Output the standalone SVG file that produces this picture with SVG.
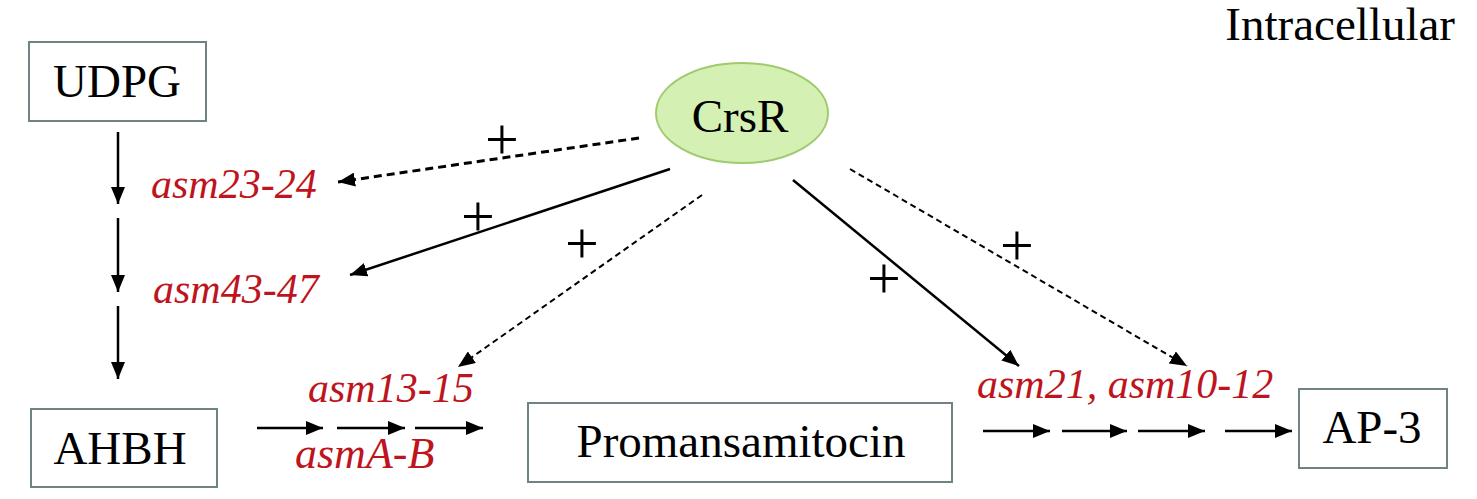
<svg xmlns="http://www.w3.org/2000/svg" width="1477" height="499" viewBox="0 0 1477 499">
<defs>
<style>
.box{fill:#fff;stroke:#6f8384;stroke-width:2}
.lbl{font-family:"Liberation Serif","Times New Roman",serif;font-size:47px;fill:#000;text-anchor:middle}
.gene{font-family:"Liberation Serif","Times New Roman",serif;font-size:42px;font-style:italic;fill:#be1420}
.plus{font-family:"Liberation Serif","Times New Roman",serif;font-size:60px;fill:#000;text-anchor:middle}
.ln{stroke:#000;stroke-width:2.5;fill:none;marker-end:url(#ah)}
.dash{stroke:#000;stroke-width:2.5;fill:none;stroke-dasharray:8 5;marker-end:url(#ah)}
</style>
<marker id="ah" markerUnits="userSpaceOnUse" markerWidth="18" markerHeight="14" refX="17" refY="7" orient="auto">
<path d="M0,0 L17,7 L0,14 Z" fill="#000"/>
</marker>
</defs>
<rect width="1477" height="499" fill="#fff"/>
<text x="1455" y="40" class="lbl" style="text-anchor:end">Intracellular</text>
<g id="udpg"><rect class="box" x="29" y="42" width="177" height="79"/><text x="117" y="97" class="lbl">UDPG</text></g>
<g id="ahbh"><rect class="box" x="31" y="409" width="186" height="78"/><text x="120" y="464" class="lbl">AHBH</text></g>
<g id="promansamitocin"><rect class="box" x="528" y="403" width="424" height="79"/><text x="741" y="457" class="lbl">Promansamitocin</text></g>
<g id="ap3"><rect class="box" x="1299" y="389" width="148" height="79"/><text x="1372" y="443" class="lbl">AP-3</text></g>
<g id="crsr"><ellipse cx="742" cy="113" rx="86" ry="50" fill="#d4f0b2" stroke="#9fca6e" stroke-width="2"/><text x="740" y="132" class="lbl">CrsR</text></g>
<g id="genes">
<text x="151" y="198" class="gene">asm23-24</text>
<text x="153" y="303" class="gene">asm43-47</text>
<text x="308" y="402" class="gene">asm13-15</text>
<text x="295" y="468" class="gene" style="font-size:44px">asmA-B</text>
<text x="977" y="398" class="gene">asm21, asm10-12</text>
</g>
<g id="connectors">
<line class="ln" x1="118" y1="132" x2="118" y2="204"/>
<line class="ln" x1="118" y1="218" x2="118" y2="292"/>
<line class="ln" x1="118" y1="306" x2="118" y2="379"/>
<line class="ln" x1="257" y1="428" x2="323" y2="428"/>
<line class="ln" x1="337" y1="428" x2="405" y2="428"/>
<line class="ln" x1="415" y1="428" x2="483" y2="428"/>
<line class="ln" x1="983" y1="431" x2="1050" y2="431"/>
<line class="ln" x1="1062" y1="431" x2="1127" y2="431"/>
<line class="ln" x1="1138" y1="431" x2="1205" y2="431"/>
<line class="ln" x1="1225" y1="431" x2="1292" y2="431"/>
<line class="dash" x1="639" y1="138" x2="338" y2="182" style="stroke-width:3"/>
<line class="ln" x1="670" y1="169" x2="350" y2="275"/>
<line class="dash" x1="702" y1="195" x2="458" y2="367" style="stroke-width:2;stroke-dasharray:6 4"/>
<line class="ln" x1="793" y1="180" x2="1019" y2="366"/>
<line class="dash" x1="850" y1="169" x2="1187" y2="366" style="stroke-width:2;stroke-dasharray:6 4"/>
</g>
<g id="plus-signs">
<text x="502" y="159" class="plus">+</text>
<text x="478" y="236" class="plus">+</text>
<text x="582" y="263" class="plus">+</text>
<text x="884" y="298" class="plus">+</text>
<text x="1017" y="265" class="plus">+</text>
</g>
</svg>
